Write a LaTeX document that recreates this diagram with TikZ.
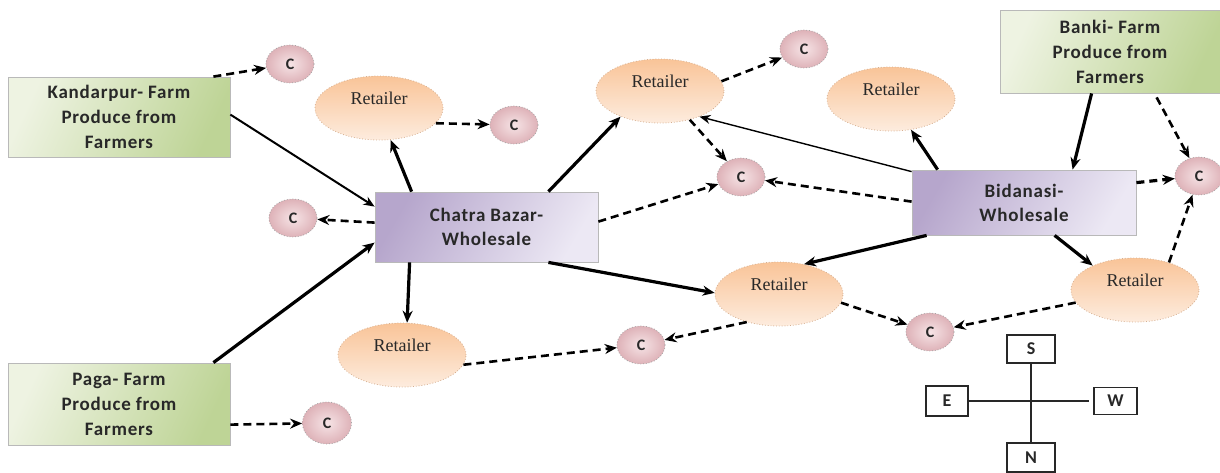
\documentclass[tikz,border=0pt]{standalone}
\usepackage{fontspec}
\newfontfamily\labfont{Carlito}[LetterSpace=4]
\newfontfamily\serfont{Liberation Serif}
\usetikzlibrary{arrows.meta,calc,shapes.geometric}

\definecolor{greenD}{RGB}{190,212,150}
\definecolor{greenL}{RGB}{238,243,226}
\definecolor{purpleD}{RGB}{182,166,204}
\definecolor{purpleL}{RGB}{236,232,244}
\definecolor{peachD}{RGB}{249,196,152}
\definecolor{peachL}{RGB}{253,236,222}
\definecolor{pinkD}{RGB}{222,178,184}
\definecolor{pinkL}{RGB}{246,228,230}
\definecolor{ink}{RGB}{40,40,40}

\begin{document}
\begin{tikzpicture}[x=0.5pt,y=-0.5pt,
  farm/.style={rectangle, draw=gray!55, line width=0.4pt,
    left color=greenL, right color=greenD, shading angle=65,
    minimum width=111pt, minimum height=40pt, inner sep=0pt, align=center,
    font=\labfont\bfseries\fontsize{9.5}{12.5}\selectfont, text=ink},
  whole/.style={rectangle, draw=gray!55, line width=0.4pt,
    left color=purpleD, right color=purpleL, shading angle=60,
    minimum width=111.5pt, minimum height=35pt, inner sep=0pt, align=center,
    font=\labfont\bfseries\fontsize{9.5}{12}\selectfont, text=ink},
  retailer/.style={ellipse, draw=peachD!70!gray, densely dotted, line width=0.4pt,
    top color=peachD, bottom color=peachL,
    minimum width=64pt, minimum height=32pt, inner sep=0pt},
  rettext/.style={font=\serfont\fontsize{9}{10}\selectfont, text=ink, inner sep=0pt},
  cons/.style={ellipse, draw=gray!70, densely dotted, line width=0.4pt,
    inner color=pinkL, outer color=pinkD,
    minimum width=24pt, minimum height=19pt, inner sep=0pt,
    font=\labfont\bfseries\fontsize{8}{8}\selectfont, text=ink},
  cbox/.style={rectangle, draw=ink, line width=0.6pt, fill=white,
    inner sep=0pt, font=\labfont\bfseries\fontsize{9}{9}\selectfont, text=ink},
  big/.style={-{Stealth[length=6pt,width=5pt]}, line width=1.6pt, draw=black},
  mid/.style={-{Stealth[length=5.5pt,width=4.5pt]}, line width=1pt, draw=black},
  thin/.style={-{Stealth[length=5.5pt,width=4.5pt]}, line width=0.7pt, draw=black},
  dsh/.style={-{Stealth[length=6pt,width=5pt]}, line width=1.3pt, draw=black,
    dash pattern=on 4pt off 2.5pt},
]
\useasboundingbox (0,0) rectangle (1220,472);

% farm sources
\node[farm] (kand) at (119,117) {Kandarpur- Farm\\Produce from\\Farmers};
\node[farm, minimum height=41pt] (paga) at (119,404) {Paga- Farm\\Produce from\\Farmers};
\node[farm, minimum width=110pt, minimum height=41.5pt] (banki) at (1110,51.5) {Banki- Farm\\Produce from\\Farmers};

% wholesale markets
\node[whole] (chat) at (486.5,227) {Chatra Bazar-\\Wholesale};
\node[whole, minimum width=112pt, minimum height=32.5pt] (bid) at (1024,202.5) {Bidanasi-\\Wholesale};

% retailers
\node[retailer] (r1) at (379,108) {};
\node[retailer] (r2) at (660,91) {};
\node[retailer] (r3) at (891,99) {};
\node[retailer] (r4) at (779,294) {};
\node[retailer] (r5) at (1135,290) {};
\node[retailer] (r6) at (402,355) {};
\foreach \r in {r1,r2,r3,r4,r5,r6}
  \node[rettext] (\r t) at ($(\r)+(0,-10)$) {Retailer};

% consumers
\node[cons] (c1) at (290,64) {C};
\node[cons] (c2) at (514,125) {C};
\node[cons] (c3) at (293,218) {C};
\node[cons] (c4) at (804,49) {C};
\node[cons] (c5) at (741,177) {C};
\node[cons] (c6) at (1199,176) {C};
\node[cons] (c7) at (930,332) {C};
\node[cons] (c8) at (641,345) {C};
\node[cons, minimum width=24.5pt, minimum height=21pt] (c9) at (327,423) {C};

% flows from the farms
\draw[dsh] ($(kand.north east)+(-17,0)$) -- (c1);
\draw[mid] ($(kand.north east)+(0,38)$) -- ($(chat.north west)+(0,15)$);
\draw[big] ($(paga.north east)+(-17,0)$) -- ($(chat.north west)+(0,51)$);
\draw[dsh] ($(paga.north east)+(0,62)$) -- (c9);
\draw[big] ($(banki.south west)+(92,0)$) -- ($(bid.north west)+(161,0)$);
\draw[dsh] ($(banki.south west)+(157,4)$) -- (c6);

% flows from Chatra Bazar
\draw[big] ($(chat.north west)+(37,0)$) -- (r1.-70);
\draw[dsh] ($(chat.north west)+(0,31)$) -- (c3);
\draw[big] ($(chat.north east)+(-50,0)$) -- (r2.-147);
\draw[dsh] ($(chat.north east)+(0,30)$) -- (c5);
\draw[big] ($(chat.south east)+(-50,0)$) -- (r4.179);
\draw[big] ($(chat.south west)+(35,0)$) -- (r6.81);

% flows from Bidanasi
\draw[thin] ($(bid.north west)+(0,2)$) -- (r2.-33);
\draw[dsh] ($(bid.north west)+(0,32)$) -- (c5);
\draw[big] ($(bid.north west)+(26,0)$) -- (r3.-57);
\draw[dsh, line width=1.6pt] ($(bid.north east)+(0,13)$) -- (c6);
\draw[big] ($(bid.south west)+(15,0)$) -- (r4.50);
\draw[big] ($(bid.south west)+(143,0)$) -- (r5.150);

% retailers to consumers
\draw[dsh] (r1.-15) -- (c2);
\draw[dsh] (r2.9) -- (c4);
\draw[dsh] (r2.-44) -- (c5);
\draw[dsh] (r5.39) -- (c6);
\draw[dsh] (r5.-168) -- (c7);
\draw[dsh] (r4.-8) -- (c7);
\draw[dsh] (r6.-9) -- (c8);
\draw[dsh] (r4.-139) -- (c8);

% compass
\node[cbox, minimum width=24pt, minimum height=14pt] (s) at (1031,349) {S};
\node[cbox, minimum width=21pt, minimum height=15pt] (e) at (947,401) {E};
\node[cbox, minimum width=21.5pt, minimum height=13.5pt] (w) at (1115.5,401) {W};
\node[cbox, minimum width=24pt, minimum height=14.5pt] (n) at (1031,457.5) {N};
\draw[line width=0.8pt, draw=ink] (s) -- (n);
\draw[line width=0.8pt, draw=ink] (e.east) -- ($(w.west)+(-4,0)$);
\end{tikzpicture}
\end{document}
